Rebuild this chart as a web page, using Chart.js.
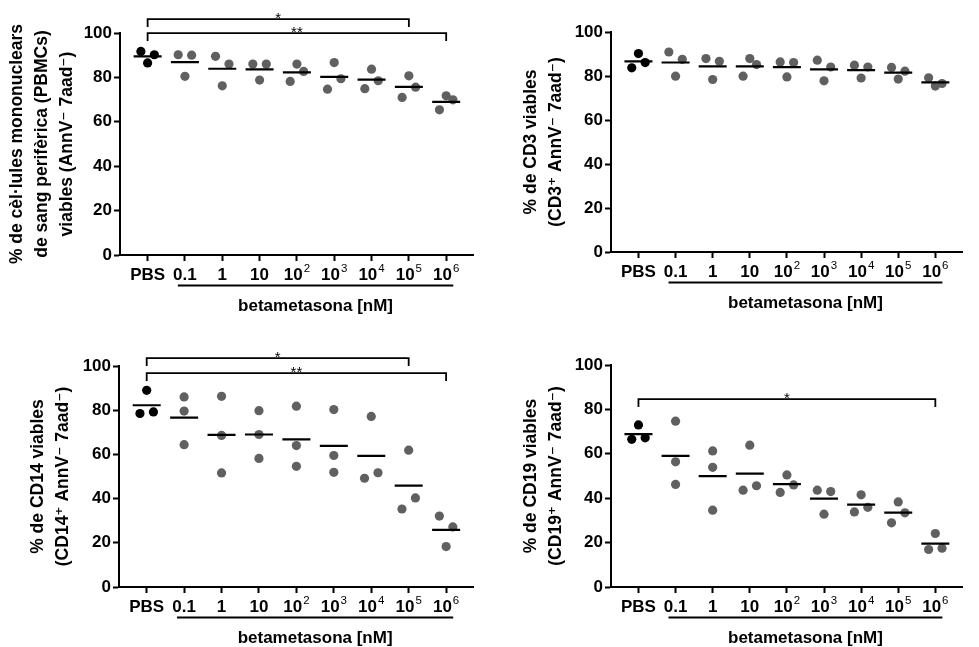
<!DOCTYPE html>
<html>
<head>
<meta charset="utf-8">
<script src="https://cdn.jsdelivr.net/npm/chart.js@4.4.1/dist/chart.umd.min.js"></script>
<style>
  html, body { margin: 0; padding: 0; background: #fff; }
  body { width: 979px; height: 647px; position: relative; overflow: hidden; }
  .panel { position: absolute; }
</style>
</head>
<body>
<div class="panel" style="left:0;top:0;width:490px;height:320px"><canvas id="c1" width="490" height="320"></canvas></div>
<div class="panel" style="left:490px;top:0;width:489px;height:320px"><canvas id="c2" width="489" height="320"></canvas></div>
<div class="panel" style="left:0;top:320px;width:490px;height:327px"><canvas id="c3" width="490" height="327"></canvas></div>
<div class="panel" style="left:490px;top:320px;width:489px;height:327px"><canvas id="c4" width="489" height="327"></canvas></div>
<script>
// ---------- data ----------
const categories = ['PBS', '0.1', '1', '10', '10²', '10³', '10⁴', '10⁵', '10⁶'];
const yTicks = [0, 20, 40, 60, 80, 100];
const groupLabel = 'betametasona [nM]';

// three replicates per category (PBS, 0.1 ... 10^6)
const pbmcViable = [[91.7, 86.5, 90.2], [90.2, 80.5, 90.0], [89.5, 76.2, 86.0], [86.0, 78.8, 86.0], [78.2, 86.0, 82.7], [74.7, 86.7, 79.4], [74.9, 83.7, 78.5], [71.0, 80.7, 75.6], [65.4, 71.7, 69.9]];
const cd3Viable  = [[83.7, 90.2, 86.1], [90.9, 79.9, 87.6], [87.9, 78.4, 86.7], [79.9, 87.9, 85.2], [86.4, 79.6, 86.1], [87.2, 77.8, 84.1], [84.9, 79.1, 84.1], [83.9, 78.6, 82.2], [79.2, 75.4, 76.6]];
const cd14Viable = [[78.5, 89.0, 79.2], [86.0, 79.6, 64.4], [86.3, 68.6, 51.6], [79.8, 69.0, 58.2], [81.8, 64.0, 54.6], [80.3, 59.5, 51.9], [49.2, 77.2, 51.7], [35.3, 61.9, 40.3], [32.1, 18.3, 27.2]];
const cd19Viable = [[66.5, 73.0, 67.2], [74.7, 56.4, 46.2], [61.3, 53.9, 34.6], [43.6, 63.9, 45.6], [42.6, 50.5, 46.0], [43.6, 32.8, 43.0], [33.8, 41.5, 35.9], [28.9, 38.3, 33.4], [16.9, 24.1, 17.5]];

// significance brackets: from category, to category, label, level (axis units)
const pbmcSig = [{ from: 0, to: 7, label: '*', at: 106.3 }, { from: 0, to: 8, label: '**', at: 100 }];
const cd3Sig  = [];
const cd14Sig = [{ from: 0, to: 7, label: '*', at: 103.6 }, { from: 0, to: 8, label: '**', at: 97 }];
const cd19Sig = [{ from: 0, to: 8, label: '*', at: 84.5 }];

const pbmcTitle = ['% de cèl·lules mononuclears', 'de sang perifèrica (PBMCs)', 'viables (AnnV⁻ 7aad⁻)'];
const cd3Title  = ['% de CD3 viables', '(CD3⁺ AnnV⁻ 7aad⁻)'];
const cd14Title = ['% de CD14 viables', '(CD14⁺ AnnV⁻ 7aad⁻)'];
const cd19Title = ['% de CD19 viables', '(CD19⁺ AnnV⁻ 7aad⁻)'];

// ---------- rendering ----------
const FONT = '"Liberation Sans", Arial, "DejaVu Sans", sans-serif';
const X_MIN = -0.74, X_MAX = 8.74;
const GAP_PX = 12;      // points closer than this (vertically) get spread sideways
const SPREAD_PX = 7;    // sideways spread of colliding points
const SUP = { '⁰': '0', '¹': '1', '²': '2', '³': '3', '⁴': '4', '⁵': '5', '⁶': '6', '⁷': '7', '⁸': '8', '⁹': '9' };

function layoutPoints(groups, pxPerUnit, pxPerCat) {
  const pts = [];
  groups.forEach((vals, gi) => {
    const order = vals.map((v, i) => i).sort((a, b) => vals[a] - vals[b]);
    const clusters = [];
    let cur = [order[0]];
    for (let k = 1; k < order.length; k++) {
      if ((vals[order[k]] - vals[order[k - 1]]) * pxPerUnit < GAP_PX) cur.push(order[k]);
      else { clusters.push(cur); cur = [order[k]]; }
    }
    clusters.push(cur);
    clusters.forEach(c => {
      c.sort((a, b) => a - b);
      const n = c.length;
      c.forEach((i, j) => {
        const off = n === 1 ? 0 : (j / (n - 1) * 2 - 1) * SPREAD_PX;
        pts.push({ x: gi + off / pxPerCat, y: vals[i], g: gi });
      });
    });
  });
  return pts;
}

const annotPlugin = {
  id: 'annot',
  afterDraw(chart, args, opts) {
    const { ctx } = chart;
    const x = chart.scales.x, y = chart.scales.y;
    const yb = chart.chartArea.bottom;
    ctx.save();
    ctx.strokeStyle = '#000';
    ctx.fillStyle = '#000';

    // category labels of the x axis, with raised exponents
    const baseFont = 'bold 17px ' + FONT, expFont = '11.5px ' + FONT;
    ctx.textBaseline = 'alphabetic';
    ctx.textAlign = 'left';
    x.ticks.forEach(t => {
      const label = categories[t.value];
      let base = '', exp = '';
      for (const ch of label) { if (SUP[ch]) exp += SUP[ch]; else base += ch; }
      ctx.font = baseFont; const wb = ctx.measureText(base).width;
      ctx.font = expFont; const we = exp ? ctx.measureText(exp).width + 1 : 0;
      const px = x.getPixelForValue(t.value) - (wb + we) / 2;
      const by = yb + 24.5;
      ctx.font = baseFont; ctx.fillText(base, px, by);
      if (exp) { ctx.font = expFont; ctx.fillText(exp, px + wb + 1, by - 7.8); }
    });

    // underline of the treated groups and its label
    const x1 = x.getPixelForValue(1 - 0.19), x2 = x.getPixelForValue(categories.length - 1 + 0.19);
    ctx.lineWidth = 2;
    ctx.beginPath(); ctx.moveTo(x1, yb + 30.5); ctx.lineTo(x2, yb + 30.5); ctx.stroke();
    ctx.font = 'bold 17px ' + FONT;
    ctx.textAlign = 'center';
    ctx.textBaseline = 'middle';
    ctx.fillText(groupLabel, (x1 + x2) / 2, yb + 51);

    // significance brackets
    ctx.lineWidth = 1.8;
    opts.brackets.forEach(b => {
      const yy = Math.round(y.getPixelForValue(b.at)) + 0.1;
      const xa = x.getPixelForValue(b.from), xc = x.getPixelForValue(b.to);
      ctx.beginPath();
      ctx.moveTo(xa, yy + 8); ctx.lineTo(xa, yy); ctx.lineTo(xc, yy); ctx.lineTo(xc, yy + 8);
      ctx.stroke();
      ctx.font = '15px ' + FONT;
      ctx.textBaseline = 'alphabetic';
      ctx.fillText(b.label, (xa + xc) / 2, yy + 4);
    });
    ctx.restore();
  }
};

function makePanel(id, groups, title, brackets, L) {
  const canvas = document.getElementById(id);
  const W = canvas.width, H = canvas.height;
  const pxPerUnit = (L.bottom - L.top) / 100;
  const pxPerCat = (L.right - L.left) / (X_MAX - X_MIN);
  const pts = layoutPoints(groups, pxPerUnit, pxPerCat);
  const means = groups.map((v, i) => ({ x: i, y: v.reduce((a, b) => a + b, 0) / v.length }));

  new Chart(canvas, {
    type: 'scatter',
    data: {
      datasets: [
        { label: 'mean', data: means, pointStyle: 'line', pointRadius: 14, pointHoverRadius: 14,
          borderColor: '#000', pointBorderWidth: 2.2, borderWidth: 2.2, showLine: false, order: 0 },
        { label: 'PBS', data: pts.filter(p => p.g === 0), pointRadius: 4.6, pointHoverRadius: 4.6,
          backgroundColor: '#000', borderWidth: 0, order: 1 },
        { label: 'betametasona', data: pts.filter(p => p.g > 0), pointRadius: 4.6, pointHoverRadius: 4.6,
          backgroundColor: '#606060', borderWidth: 0, order: 1 }
      ]
    },
    options: {
      responsive: false,
      animation: false,
      events: [],
      layout: { padding: { left: 0, top: L.top, right: W - L.right, bottom: 0 } },
      plugins: { legend: { display: false }, tooltip: { enabled: false }, annot: { brackets } },
      scales: {
        x: {
          type: 'linear', min: X_MIN, max: X_MAX,
          afterFit: s => { s.height = H - L.bottom; },
          afterBuildTicks: s => { s.ticks = categories.map((c, i) => ({ value: i })); },
          ticks: { display: false, callback: v => categories[v], autoSkip: false, maxRotation: 0, minRotation: 0 },
          grid: { drawOnChartArea: false, drawTicks: true, tickLength: 6, tickWidth: 2, tickColor: '#000' },
          border: { display: true, color: '#000', width: 2 }
        },
        y: {
          min: 0, max: 100,
          afterFit: s => { s.width = L.left; },
          afterBuildTicks: s => { s.ticks = yTicks.map(v => ({ value: v })); },
          ticks: { font: { family: FONT, size: 17, weight: 'bold' }, color: '#000', padding: 2 },
          grid: { drawOnChartArea: false, drawTicks: true, tickLength: 6, tickWidth: 2, tickColor: '#000' },
          border: { display: true, color: '#000', width: 2 },
          title: { display: true, text: title, color: '#000',
                   font: { family: FONT, size: 17.5, weight: 'bold', lineHeight: 25 / 17.5 },
                   padding: { top: L.titlePad, bottom: 0 } }
        }
      }
    },
    plugins: [annotPlugin]
  });
}

makePanel('c1', pbmcViable, pbmcTitle, pbmcSig, { left: 120, top: 33, bottom: 255, right: 488, titlePad: 4.5 });
makePanel('c2', cd3Viable,  cd3Title,  cd3Sig,  { left: 121, top: 32, bottom: 252, right: 488, titlePad: 29 });
makePanel('c3', cd14Viable, cd14Title, cd14Sig, { left: 119, top: 46, bottom: 267, right: 488, titlePad: 26 });
makePanel('c4', cd19Viable, cd19Title, cd19Sig, { left: 121, top: 45, bottom: 267, right: 488, titlePad: 29 });
</script>
</body>
</html>
